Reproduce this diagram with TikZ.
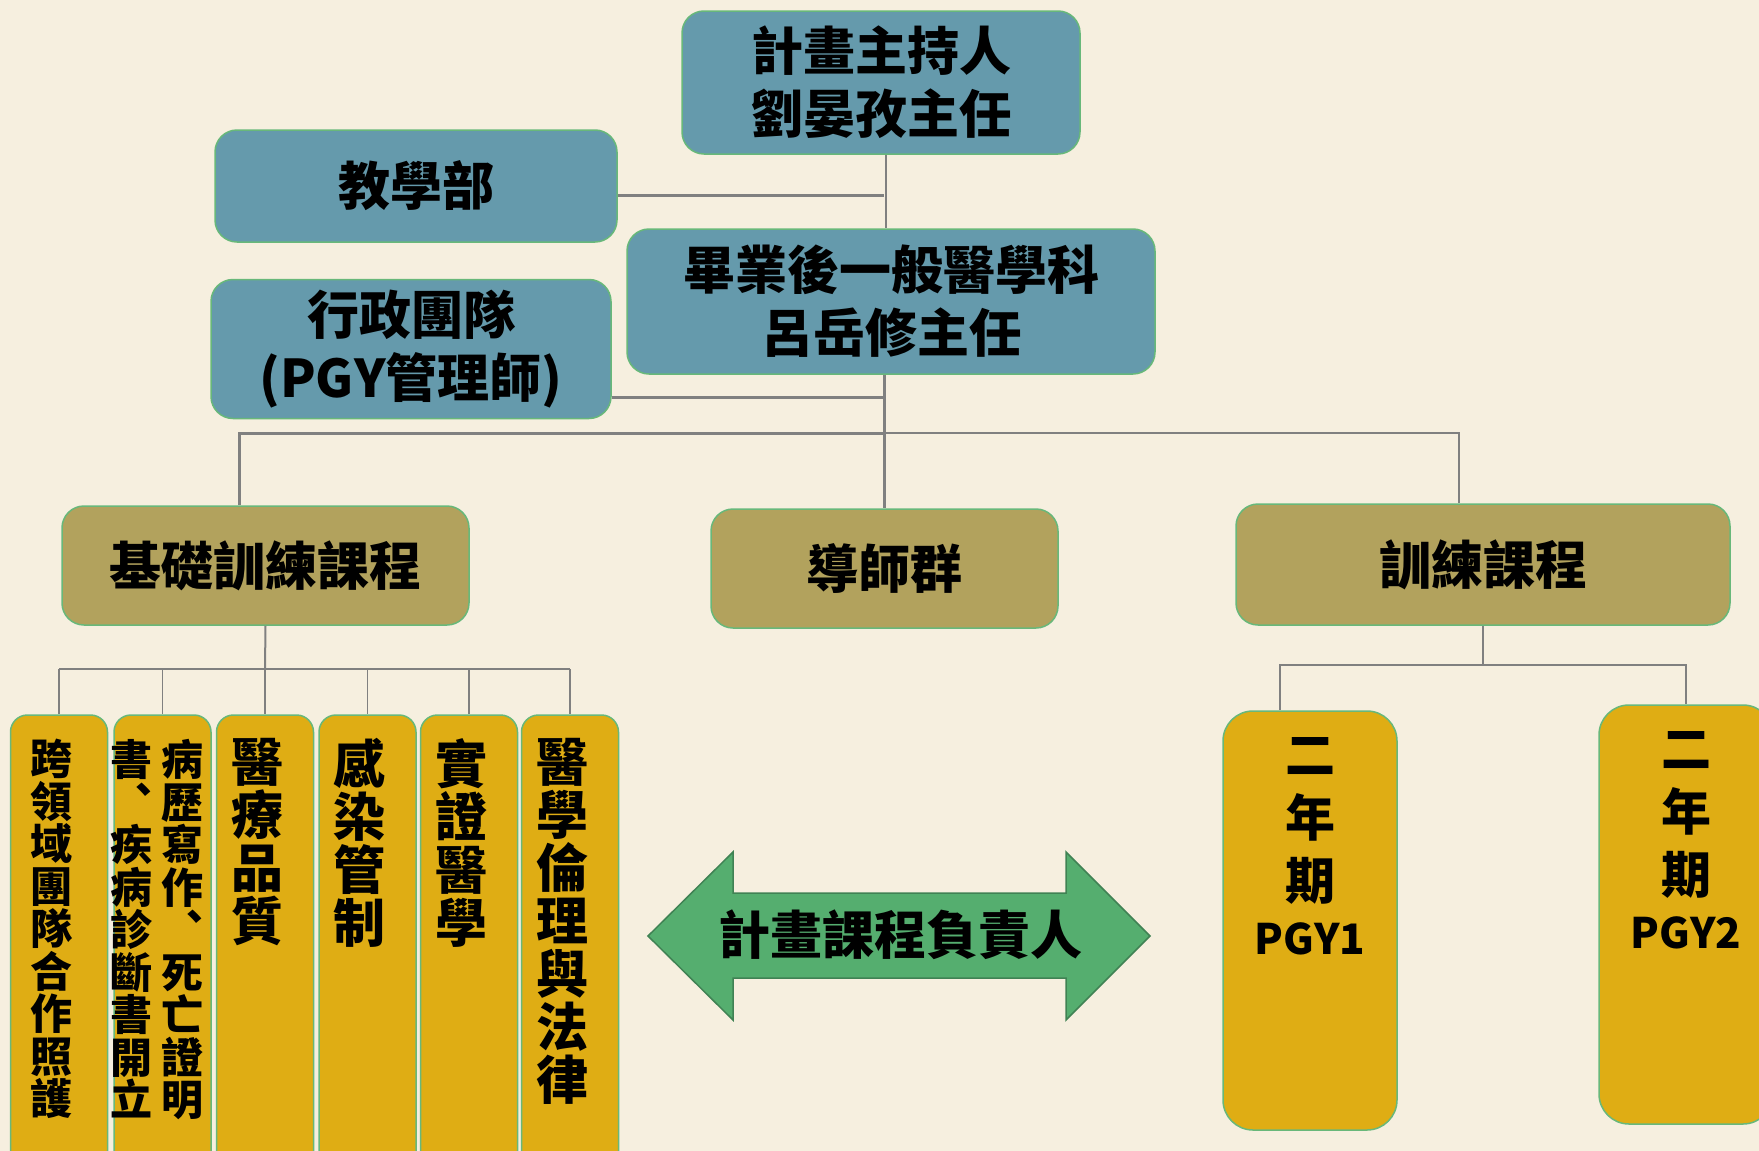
\documentclass[tikz,border=0pt]{standalone}
\usepackage{fontspec}
\setmainfont{Noto Sans CJK TC}
\usetikzlibrary{positioning}
\setlength{\lineskiplimit}{-100pt}
\definecolor{bg}{RGB}{246,239,223}
\definecolor{tealbox}{RGB}{101,154,172}
\definecolor{olivebox}{RGB}{178,162,93}
\definecolor{goldbox}{RGB}{223,173,20}
\definecolor{greenarrow}{RGB}{85,174,111}
\definecolor{greenedge}{RGB}{64,130,84}
\definecolor{boxedge}{RGB}{104,184,122}
\definecolor{linegray}{RGB}{128,128,128}
\begin{document}
\begin{tikzpicture}[x=1pt,y=-1pt,
  box/.style={draw=boxedge,line width=1.5pt,rounded corners=22pt,align=center,inner sep=0pt,
    font=\bfseries\fontsize{52}{63}\selectfont},
  tealnode/.style={box,fill=tealbox},
  olivenode/.style={box,fill=olivebox},
  colnode/.style={box,fill=goldbox,rounded corners=17pt,minimum width=97pt,minimum height=460pt},
  yearnode/.style={box,fill=goldbox,rounded corners=30pt,minimum width=174pt,minimum height=419pt},
  vtext/.style={align=center,inner sep=0pt,xshift=-8pt,font=\bfseries\fontsize{52}{53}\selectfont},
  smalltext/.style={font=\bfseries\fontsize{42}{42.5}\selectfont},
  thickline/.style={linegray,line width=3pt},
  medline/.style={linegray,line width=2pt},
  thinline/.style={linegray,line width=1.4pt}]

\path[use as bounding box,fill=bg] (0,0) rectangle (1759,1151);
\clip (0,0) rectangle (1759,1151);

\node[tealnode,minimum width=398pt,minimum height=143pt] (head) at (881,82.5) {計畫主持人\\劉晏孜主任};
\node[tealnode,minimum width=402pt,minimum height=112pt] (teach) at (416,186) {教學部};
\node[tealnode,minimum width=528pt,minimum height=145pt] (pgy) at (891,301.5) {畢業後一般醫學科\\呂岳修主任};
\node[tealnode,minimum width=400pt,minimum height=139pt] (admin) at (411,349) {行政團隊\\(PGY管理師)};

\node[olivenode,minimum width=407pt,minimum height=119pt] (basic) at (265.5,565.5) {基礎訓練課程};
\node[olivenode,minimum width=347pt,minimum height=119pt] (tutor) at (884.5,568.5) {導師群};
\node[olivenode,minimum width=494pt,minimum height=121pt] (train) at (1483,564.5) {訓練課程};

\foreach \n/\x in {c1/59,c2/162.5,c3/265,c4/367.5,c5/469,c6/570}
  \node[colnode] (\n) at (\x,945) {};

\node[vtext,smalltext,below=25pt of c1.north] (t1) {跨\\領\\域\\團\\隊\\合\\作\\照\\護};
\node[vtext,smalltext,below=25pt of c2.north,xshift=27.5pt] (t2r) {病\\歷\\寫\\作\\︑\\死\\亡\\證\\明};
\node[vtext,smalltext,below=25pt of c2.north,xshift=-23.5pt] (t2l) {書\\︑\\疾\\病\\診\\斷\\書\\開\\立};
\node[vtext,below=24pt of c3.north] (t3) {醫\\療\\品\\質};
\node[vtext,below=24pt of c4.north] (t4) {感\\染\\管\\制};
\node[vtext,below=24pt of c5.north] (t5) {實\\證\\醫\\學};
\node[vtext,below=24pt of c6.north] (t6) {醫\\學\\倫\\理\\與\\法\\律};

\node[yearnode] (y1) at (1310,920.5) {};
\node[yearnode] (y2) at (1686,914.5) {};
\node[vtext,xshift=8pt,font=\bfseries\fontsize{50}{63}\selectfont,below=27pt of y1.north] (y1t)
  {二\\年\\期\\[-8pt]{\fontsize{42}{44}\selectfont PGY1}};
\node[vtext,xshift=8pt,font=\bfseries\fontsize{50}{63}\selectfont,below=27pt of y2.north] (y2t)
  {二\\年\\期\\[-8pt]{\fontsize{42}{44}\selectfont PGY2}};

\draw[fill=greenarrow,draw=greenedge,line width=1.5pt] (648,936) -- (733,852) -- (733,893) -- (1066,893)
  -- (1066,852) -- (1150,936) -- (1066,1020) -- (1066,978) -- (733,978) -- (733,1020) -- cycle;
\node[font=\bfseries\fontsize{52}{63}\selectfont,inner sep=0pt] (resp) at (900,935) {計畫課程負責人};

\coordinate (j0) at (886,0);
\coordinate (j1) at (884,195);
\coordinate (j2) at (884,397);
\coordinate (j3) at (884,433);
\coordinate (b1) at (265,669);
\coordinate (r1) at (1483,665);

\draw[thinline] (head.south -| j0) -- (pgy.north -| j0);
\draw[thickline] (teach.east |- j1) -- (j1);
\draw[thickline] (admin.east |- j2) -- (j2);
\draw[thickline] (pgy.south -| j1) -- (tutor.north -| j1);
\draw[thickline] (j3) -| ([xshift=-26.5pt]basic.north);
\draw[thinline] (j3) -| ([xshift=-24pt]train.north);

\draw[medline] (basic.south) -- (b1);
\draw[thinline] (c1.north |- b1) -- (c6.north |- b1);
\foreach \n in {c1,c2,c3,c4,c5,c6}
  \draw[thinline] (\n.north |- b1) -- (\n.north);

\draw[medline] (train.south) -- (r1);
\draw[thinline] (r1) -| ([xshift=-30pt]y1.north);
\draw[thinline] (r1) -| (y2.north);

\end{tikzpicture}
\end{document}
